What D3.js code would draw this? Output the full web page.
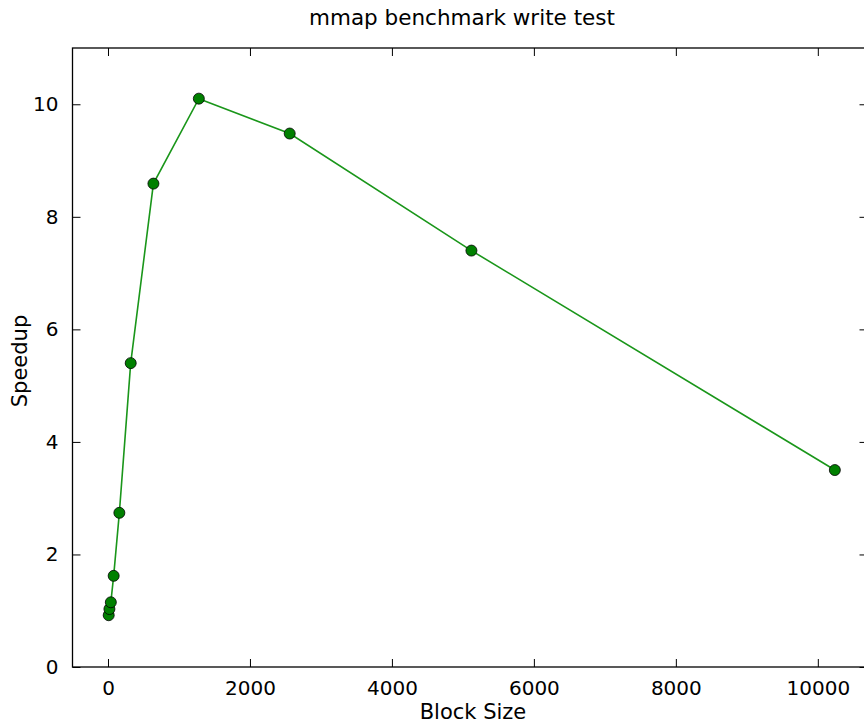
<!DOCTYPE html>
<html>
<head>
<meta charset="utf-8">
<script src="https://cdn.jsdelivr.net/npm/d3@7"></script>
<style>
  body { margin: 0; background: #fff; }
  text { font-family: "DejaVu Sans", sans-serif; fill: #000; }
</style>
</head>
<body>
<div class="canvas"></div>
<script>
// block sizes and measured speedups
const blockSizes = [10, 20, 40, 80, 160, 320, 640, 1280, 2560, 5120, 10240];
const speedups   = [0.92, 1.03, 1.15, 1.62, 2.74, 5.4, 8.59, 10.1, 9.48, 7.4, 3.5];
const xTicks = [0, 2000, 4000, 6000, 8000, 10000];
const yTicks = [0, 2, 4, 6, 8, 10];

const dims = {width: 864, height: 724};
const plot = {left: 72.5, right: 867.5, top: 48, bottom: 667};

const svg = d3.select(".canvas")
  .append("svg")
  .attr("width", dims.width)
  .attr("height", dims.height);

const x = d3.scaleLinear().domain([-500, 10700]).range([plot.left, plot.right]);
const y = d3.scaleLinear().domain([0, 11]).range([plot.bottom, plot.top]);

const data = blockSizes.map((b, i) => ({b, s: speedups[i]}));

// ticks on all four sides, pointing inward
const tickLen = 8;
const fmt = d3.format("d");
const bottomAxis = d3.axisBottom(x).tickValues(xTicks).tickFormat(fmt).tickSizeInner(-tickLen).tickSizeOuter(0).tickPadding(14);
const leftAxis = d3.axisLeft(y).tickValues(yTicks).tickFormat(fmt).tickSizeInner(-tickLen).tickSizeOuter(0).tickPadding(14);
const topAxis = d3.axisTop(x).tickValues(xTicks).tickSizeInner(-tickLen).tickSizeOuter(0).tickFormat("");
const rightAxis = d3.axisRight(y).tickValues(yTicks).tickSizeInner(-tickLen).tickSizeOuter(0).tickFormat("");

const gb = svg.append("g").attr("transform", `translate(0, ${plot.bottom})`).call(bottomAxis);
const gl = svg.append("g").attr("transform", `translate(${plot.left}, 0)`).call(leftAxis);
const gt = svg.append("g").attr("transform", `translate(0, ${plot.top})`).call(topAxis);
const gr = svg.append("g").attr("transform", `translate(${plot.right}, 0)`).call(rightAxis);

[gb, gl, gt, gr].forEach(g => {
  g.select(".domain").remove();
  g.selectAll("line").attr("stroke", "#000").attr("stroke-width", 1);
  g.selectAll("text").style("font-size", "20px").attr("fill", "#000");
});
gb.selectAll("text").attr("dy", "0.71em");

// frame
svg.append("rect")
  .attr("x", plot.left).attr("y", plot.top)
  .attr("width", plot.right - plot.left).attr("height", plot.bottom - plot.top)
  .attr("fill", "none").attr("stroke", "#000").attr("stroke-width", 1.3);

// line + markers
const line = d3.line().x(d => x(d.b)).y(d => y(d.s));
svg.append("path")
  .datum(data)
  .attr("d", line)
  .attr("fill", "none")
  .attr("stroke", "#1a961a")
  .attr("stroke-width", 1.6);

svg.append("g").selectAll("circle")
  .data(data)
  .enter()
  .append("circle")
  .attr("cx", d => x(d.b))
  .attr("cy", d => y(d.s))
  .attr("r", 5.5)
  .attr("fill", "#008000")
  .attr("stroke", "#000")
  .attr("stroke-width", 0.8);

// labels
svg.append("text")
  .attr("x", 462).attr("y", 25)
  .attr("text-anchor", "middle")
  .style("font-size", "21.5px")
  .text("mmap benchmark write test");

svg.append("text")
  .attr("x", 473).attr("y", 719)
  .attr("text-anchor", "middle")
  .style("font-size", "21px")
  .text("Block Size");

svg.append("text")
  .attr("transform", `translate(27, 361) rotate(-90)`)
  .attr("text-anchor", "middle")
  .style("font-size", "21px")
  .text("Speedup");
</script>
</body>
</html>
